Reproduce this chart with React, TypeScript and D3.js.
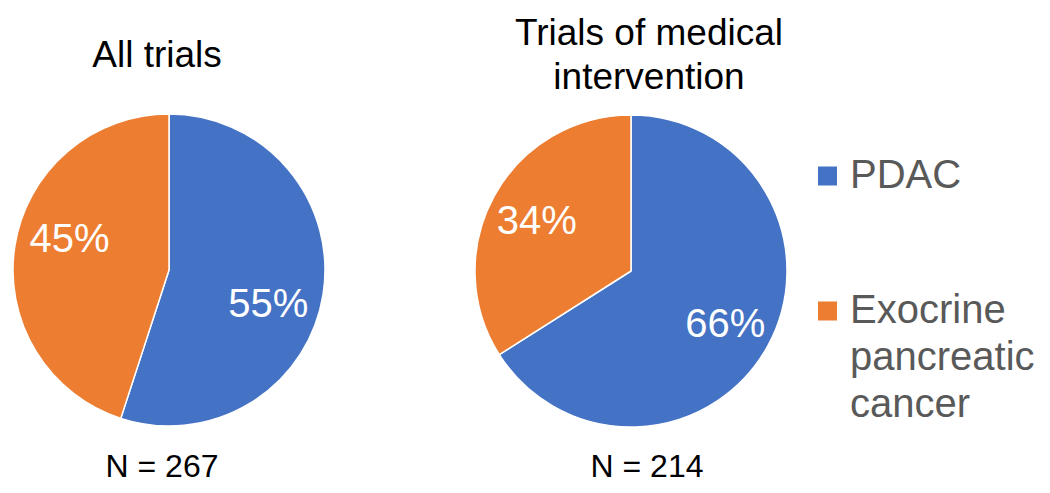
import * as d3 from "d3";
import { useEffect, useRef } from "react";

// data
const categories = ["PDAC", "Exocrine pancreatic cancer"];
const legendLines = [["PDAC"], ["Exocrine", "pancreatic", "cancer"]];
const pieTitles = [["All trials"], ["Trials of medical", "intervention"]];
const pieTotals = [267, 214];
const allTrialsShares = [55, 45];
const medicalShares = [66, 34];
const colors = ["#4472C4", "#ED7D31"];

const W = 1050;
const H = 493;
const FONT = "Arial, 'Liberation Sans', sans-serif";

// layout for each panel (labelTurn: best-fit label rotation, degrees)
const panels = [
  { cx: 169, cy: 270, titleX: 157, nX: 162, labelTurn: 9, labelR: 0.67, shares: allTrialsShares },
  { cx: 631, cy: 271, titleX: 649, nX: 647, labelTurn: 0, labelR: 0.69, shares: medicalShares },
];

const App = () => {
  const svgRef = useRef<SVGSVGElement>(null);

  useEffect(() => {
    const svgEl = d3.select(svgRef.current);
    svgEl.selectAll("*").remove();

    const radius = 156;
    const color = d3.scaleOrdinal<string, string>().domain(categories).range(colors);
    const pie = d3
      .pie<number>()
      .sort(null)
      .value((d) => d);
    const arc = d3.arc<d3.PieArcDatum<number>>().innerRadius(0).outerRadius(radius);

    panels.forEach((p, pi) => {
      const g = svgEl.append("g").attr("transform", `translate(${p.cx},${p.cy})`);
      const arcs = pie(p.shares);
      const turn = (p.labelTurn * Math.PI) / 180;
      const labelArc = d3
        .arc<d3.PieArcDatum<number>>()
        .innerRadius(radius * p.labelR)
        .outerRadius(radius * p.labelR)
        .startAngle((d) => d.startAngle + turn)
        .endAngle((d) => d.endAngle + turn);

      g.selectAll("path")
        .data(arcs)
        .join("path")
        .attr("d", arc)
        .attr("fill", (d, i) => color(categories[i]))
        .attr("stroke", "#fff")
        .attr("stroke-width", 1.5)
        .attr("stroke-linejoin", "round");

      g.selectAll("text.pct")
        .data(arcs)
        .join("text")
        .attr("class", "pct")
        .attr("transform", (d) => `translate(${labelArc.centroid(d)})`)
        .attr("text-anchor", "middle")
        .attr("dy", "0.36em")
        .attr("fill", "#fff")
        .attr("font-size", 40)
        .attr("font-family", FONT)
        .text((d) => `${d.data}%`);

      // title, centred around y = 54
      const lines = pieTitles[pi];
      svgEl
        .append("text")
        .attr("text-anchor", "middle")
        .attr("font-size", 37)
        .attr("font-family", FONT)
        .attr("fill", "#000")
        .selectAll("tspan")
        .data(lines)
        .join("tspan")
        .attr("x", p.titleX)
        .attr("y", (d, i) => 67 + (i - (lines.length - 1) / 2) * 44)
        .text((d) => d);

      svgEl
        .append("text")
        .attr("x", p.nX)
        .attr("y", 477)
        .attr("text-anchor", "middle")
        .attr("font-size", 32)
        .attr("font-family", FONT)
        .attr("fill", "#000")
        .text(`N = ${pieTotals[pi]}`);
    });

    // legend
    const legend = svgEl.append("g").attr("transform", "translate(818,0)");
    const item = legend
      .selectAll("g")
      .data(categories)
      .join("g")
      .attr("transform", (d, i) => `translate(0,${176 + i * 135})`);
    item
      .append("rect")
      .attr("x", 0)
      .attr("y", -9.5)
      .attr("width", 19)
      .attr("height", 19)
      .attr("fill", (d) => color(d));
    item
      .append("text")
      .attr("font-size", 40)
      .attr("font-family", FONT)
      .attr("fill", "#595959")
      .selectAll("tspan")
      .data((d, i) => legendLines[i])
      .join("tspan")
      .attr("x", 32)
      .attr("y", (d, i) => 12 + i * 47)
      .text((d) => d);
  }, []);

  return (
    <div style={{ position: "absolute", left: 0, top: 0 }}>
      <svg ref={svgRef} width={W} height={H} style={{ display: "block", background: "#fff" }}></svg>
    </div>
  );
};

export default App;
